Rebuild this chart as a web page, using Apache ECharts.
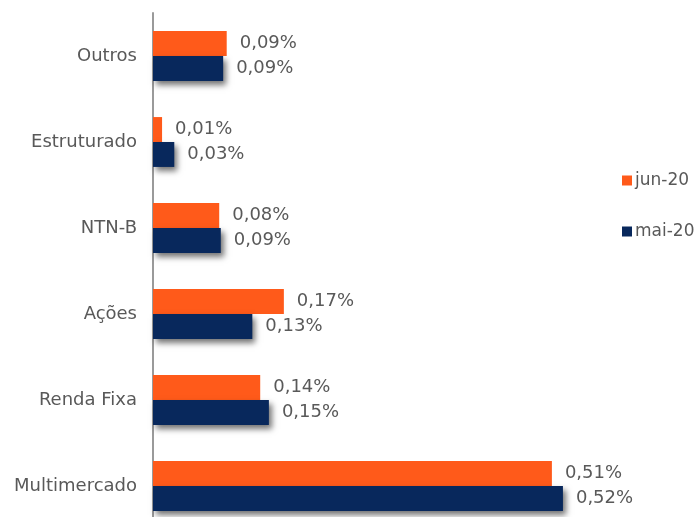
<!DOCTYPE html>
<html>
<head>
<meta charset="utf-8">
<script src="https://cdn.jsdelivr.net/npm/echarts@6/dist/echarts.min.js"></script>
<style>
  html, body { margin: 0; padding: 0; background: #fff; }
  #chart { width: 700px; height: 517px; }
</style>
</head>
<body>
<div id="chart"></div>
<script>
// categorias de baixo para cima
const categories = ["Multimercado", "Renda Fixa", "Ações", "NTN-B", "Estruturado", "Outros"];
const jun20 = [0.506, 0.136, 0.166, 0.084, 0.0115, 0.0935];
const mai20 = [0.52, 0.147, 0.126, 0.086, 0.027, 0.089];

const textColor = "#595959";
const fmt = (p) => p.value.toFixed(2).replace(".", ",") + "%";

const chart = echarts.init(document.getElementById("chart"));

const option = {
  animation: false,
  textStyle: { fontFamily: "DejaVu Sans", color: textColor },
  legend: {
    data: ["jun-20", "mai-20"],
    orient: "vertical",
    left: 622,
    top: 172,
    padding: 0,
    itemWidth: 10,
    itemHeight: 10,
    itemGap: 34,
    icon: "rect",
    textStyle: { fontSize: 17, color: textColor, fontFamily: "DejaVu Sans", padding: [0, 0, 0, -2] },
  },
  grid: {
    left: 153,
    top: 13,
    width: 473,
    height: 516,
    outerBoundsMode: "none",
  },
  xAxis: {
    type: "value",
    min: 0,
    max: 0.6,
    show: false,
  },
  yAxis: {
    type: "category",
    data: categories,
    axisLine: { lineStyle: { color: "#9a9a9a", width: 2 } },
    axisTick: { show: false },
    axisLabel: { color: textColor, fontSize: 18, margin: 16, fontFamily: "DejaVu Sans" },
  },
  series: [
    {
      name: "jun-20",
      type: "bar",
      data: jun20,
      barGap: "0%",
      barCategoryGap: "42%",
      itemStyle: { color: "#FF5A1A" },
      label: {
        show: true,
        position: "right",
        distance: 13,
        fontSize: 18,
        color: textColor,
        formatter: fmt,
      },
    },
    {
      name: "mai-20",
      type: "bar",
      data: mai20,
      barGap: "0%",
      barCategoryGap: "42%",
      itemStyle: {
        color: "#08285C",
        shadowBlur: 6,
        shadowOffsetX: 3,
        shadowOffsetY: 4,
        shadowColor: "rgba(0,0,0,0.55)",
      },
      label: {
        show: true,
        position: "right",
        distance: 13,
        fontSize: 18,
        color: textColor,
        formatter: fmt,
      },
    },
  ],
};

chart.setOption(option);
</script>
</body>
</html>
